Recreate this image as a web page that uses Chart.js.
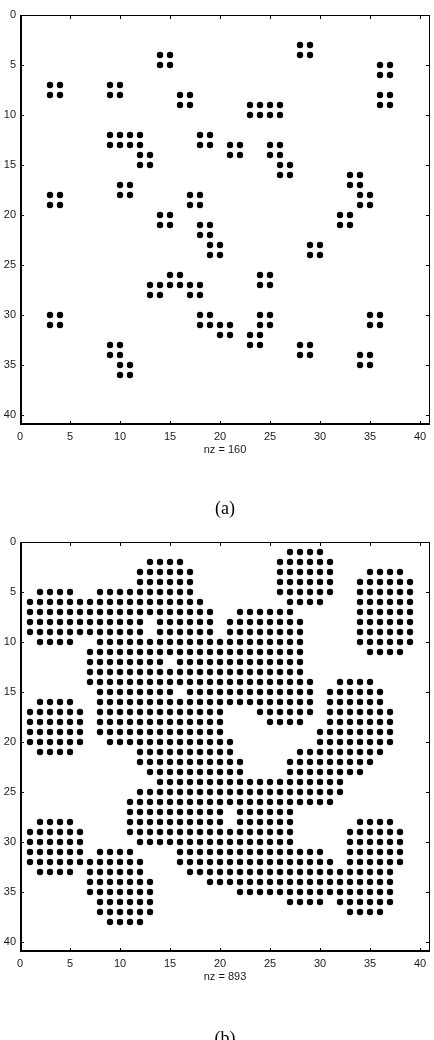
<!DOCTYPE html>
<html>
<head>
<meta charset="utf-8">
<script src="https://cdn.jsdelivr.net/npm/chart.js@4.4.1/dist/chart.umd.min.js"></script>
<style>
  body { margin: 0; background: #fff; width: 434px; height: 1040px; overflow: hidden; position: relative; }
  canvas { display: block; }
  .cap { position: absolute; left: 20px; width: 410px; text-align: center; font-family: "Liberation Serif", serif; font-size: 18px; color: #000; line-height: 20px; }
</style>
</head>
<body>
<canvas id="spyA" width="434" height="520"></canvas>
<canvas id="spyB" width="434" height="520"></canvas>
<div class="cap" style="top: 498px;">(a)</div>
<div class="cap" style="top: 1028px;">(b)</div>

<script>
// tick labels shared by both axes of both panels
const tickValues = [0, 5, 10, 15, 20, 25, 30, 35, 40];

// (a) nonzero pattern: row index, and for each row the column runs [first, last]
const rowsA = [3, 4, 5, 6, 7, 8, 9, 10, 12, 13, 14, 15, 16, 17, 18, 19, 20, 21, 22, 23, 24, 26, 27, 28, 30, 31, 32, 33, 34, 35, 36];
const runsA = [
    [[28, 29]],
    [[14, 15], [28, 29]],
    [[14, 15], [36, 37]],
    [[36, 37]],
    [[3, 4], [9, 10]],
    [[3, 4], [9, 10], [16, 17], [36, 37]],
    [[16, 17], [23, 26], [36, 37]],
    [[23, 26]],
    [[9, 12], [18, 19]],
    [[9, 12], [18, 19], [21, 22], [25, 26]],
    [[12, 13], [21, 22], [25, 26]],
    [[12, 13], [26, 27]],
    [[26, 27], [33, 34]],
    [[10, 11], [33, 34]],
    [[3, 4], [10, 11], [17, 18], [34, 35]],
    [[3, 4], [17, 18], [34, 35]],
    [[14, 15], [32, 33]],
    [[14, 15], [18, 19], [32, 33]],
    [[18, 19]],
    [[19, 20], [29, 30]],
    [[19, 20], [29, 30]],
    [[15, 16], [24, 25]],
    [[13, 18], [24, 25]],
    [[13, 14], [17, 18]],
    [[3, 4], [18, 19], [24, 25], [35, 36]],
    [[3, 4], [18, 21], [24, 25], [35, 36]],
    [[20, 21], [23, 24]],
    [[9, 10], [23, 24], [28, 29]],
    [[9, 10], [28, 29], [34, 35]],
    [[10, 11], [34, 35]],
    [[10, 11]]
];

// (b) nonzero pattern, same layout
const rowsB = [1, 2, 3, 4, 5, 6, 7, 8, 9, 10, 11, 12, 13, 14, 15, 16, 17, 18, 19, 20, 21, 22, 23, 24, 25, 26, 27, 28, 29, 30, 31, 32, 33, 34, 35, 36, 37, 38];
const runsB = [
    [[27, 30]],
    [[13, 16], [26, 31]],
    [[12, 17], [26, 31], [35, 38]],
    [[12, 17], [26, 31], [34, 39]],
    [[2, 5], [8, 17], [26, 31], [34, 39]],
    [[1, 18], [27, 30], [34, 39]],
    [[1, 19], [22, 27], [34, 39]],
    [[1, 12], [14, 19], [21, 28], [34, 39]],
    [[1, 12], [14, 19], [21, 28], [34, 39]],
    [[2, 5], [8, 28], [34, 39]],
    [[7, 28], [35, 38]],
    [[7, 14], [16, 28]],
    [[7, 28]],
    [[7, 29], [32, 35]],
    [[8, 15], [17, 29], [31, 36]],
    [[2, 5], [8, 29], [31, 36]],
    [[1, 6], [8, 20], [24, 29], [31, 37]],
    [[1, 6], [8, 20], [25, 28], [31, 37]],
    [[1, 6], [8, 20], [30, 37]],
    [[1, 6], [9, 21], [30, 37]],
    [[2, 5], [12, 21], [28, 36]],
    [[12, 22], [27, 35]],
    [[13, 22], [27, 34]],
    [[14, 32]],
    [[12, 32]],
    [[11, 31]],
    [[11, 20], [22, 27]],
    [[2, 5], [11, 20], [22, 27], [34, 37]],
    [[1, 6], [11, 27], [33, 38]],
    [[1, 6], [12, 27], [33, 38]],
    [[1, 6], [8, 11], [16, 30], [33, 38]],
    [[1, 12], [16, 31], [33, 38]],
    [[2, 5], [7, 12], [17, 37]],
    [[7, 13], [19, 37]],
    [[7, 13], [22, 37]],
    [[8, 13], [27, 30], [32, 37]],
    [[8, 13], [33, 36]],
    [[9, 12]]
];

const tickFont = { family: "'Liberation Sans', Arial, sans-serif", size: 11 };
const textColor = '#1a1a1a';

// frame with inward ticks on all four sides (matlab style)
const framePlugin = {
    id: 'frame',
    afterDatasetsDraw(chart) {
        const { ctx, chartArea, scales } = chart;
        const { left, top, right, bottom } = chartArea;
        const tickLen = 4;
        ctx.save();
        ctx.strokeStyle = '#000';
        ctx.lineWidth = 1;
        ctx.beginPath();
        scales.x.ticks.forEach(function (t) {
            const px = Math.round(scales.x.getPixelForValue(t.value)) + 0.5;
            ctx.moveTo(px, bottom);
            ctx.lineTo(px, bottom - tickLen);
            ctx.moveTo(px, top);
            ctx.lineTo(px, top + tickLen);
        });
        scales.y.ticks.forEach(function (t) {
            const py = Math.round(scales.y.getPixelForValue(t.value)) + 0.5;
            ctx.moveTo(left, py);
            ctx.lineTo(left + tickLen, py);
            ctx.moveTo(right, py);
            ctx.lineTo(right - tickLen, py);
        });
        ctx.stroke();
        // top / right
        ctx.beginPath();
        ctx.moveTo(left, top + 0.5);
        ctx.lineTo(right, top + 0.5);
        ctx.moveTo(right - 0.5, top);
        ctx.lineTo(right - 0.5, bottom);
        ctx.stroke();
        // left / bottom slightly heavier
        ctx.lineWidth = 2;
        ctx.beginPath();
        ctx.moveTo(left + 1, top);
        ctx.lineTo(left + 1, bottom);
        ctx.moveTo(left, bottom - 1);
        ctx.lineTo(right, bottom - 1);
        ctx.stroke();
        ctx.restore();
    }
};

function buildPoints(rows, runs) {
    const pts = [];
    rows.forEach(function (r, i) {
        runs[i].forEach(function (run) {
            for (let c = run[0]; c <= run[1]; c++) {
                pts.push({ x: c, y: r });
            }
        });
    });
    return pts;
}

function spyChart(canvasId, rows, runs, padTop, padBottom) {
    const points = buildPoints(rows, runs);
    const ctx = document.getElementById(canvasId).getContext('2d');
    return new Chart(ctx, {
        type: 'scatter',
        data: {
            datasets: [{
                data: points,
                pointRadius: 3.2,
                pointBorderWidth: 0,
                pointBackgroundColor: '#000',
                pointHoverRadius: 3.2
            }]
        },
        options: {
            responsive: false,
            animation: false,
            devicePixelRatio: 1,
            events: [],
            layout: { padding: { left: 0, right: 4, top: padTop, bottom: padBottom } },
            plugins: { legend: { display: false }, tooltip: { enabled: false } },
            scales: {
                x: {
                    type: 'linear',
                    position: 'bottom',
                    min: 0,
                    max: 41,
                    afterBuildTicks: function (s) { s.ticks = tickValues.map(function (v) { return { value: v }; }); },
                    afterFit: function (s) { s.height = 34; },
                    grid: { display: false, drawTicks: false },
                    border: { display: false },
                    ticks: { padding: 5, font: tickFont, color: textColor, maxRotation: 0, autoSkip: false },
                    title: {
                        display: true,
                        text: 'nz = ' + points.length,
                        font: tickFont,
                        color: textColor,
                        padding: { top: 0, bottom: 2 }
                    }
                },
                y: {
                    type: 'linear',
                    min: 0,
                    max: 41,
                    reverse: true,
                    afterBuildTicks: function (s) { s.ticks = tickValues.map(function (v) { return { value: v }; }); },
                    afterFit: function (s) { s.width = 20; },
                    grid: { display: false, drawTicks: false },
                    border: { display: false },
                    ticks: { padding: 4, font: tickFont, color: textColor, autoSkip: false }
                }
            }
        },
        plugins: [framePlugin]
    });
}

spyChart('spyA', rowsA, runsA, 15, 61);
spyChart('spyB', rowsB, runsB, 22, 54);
</script>
</body>
</html>
